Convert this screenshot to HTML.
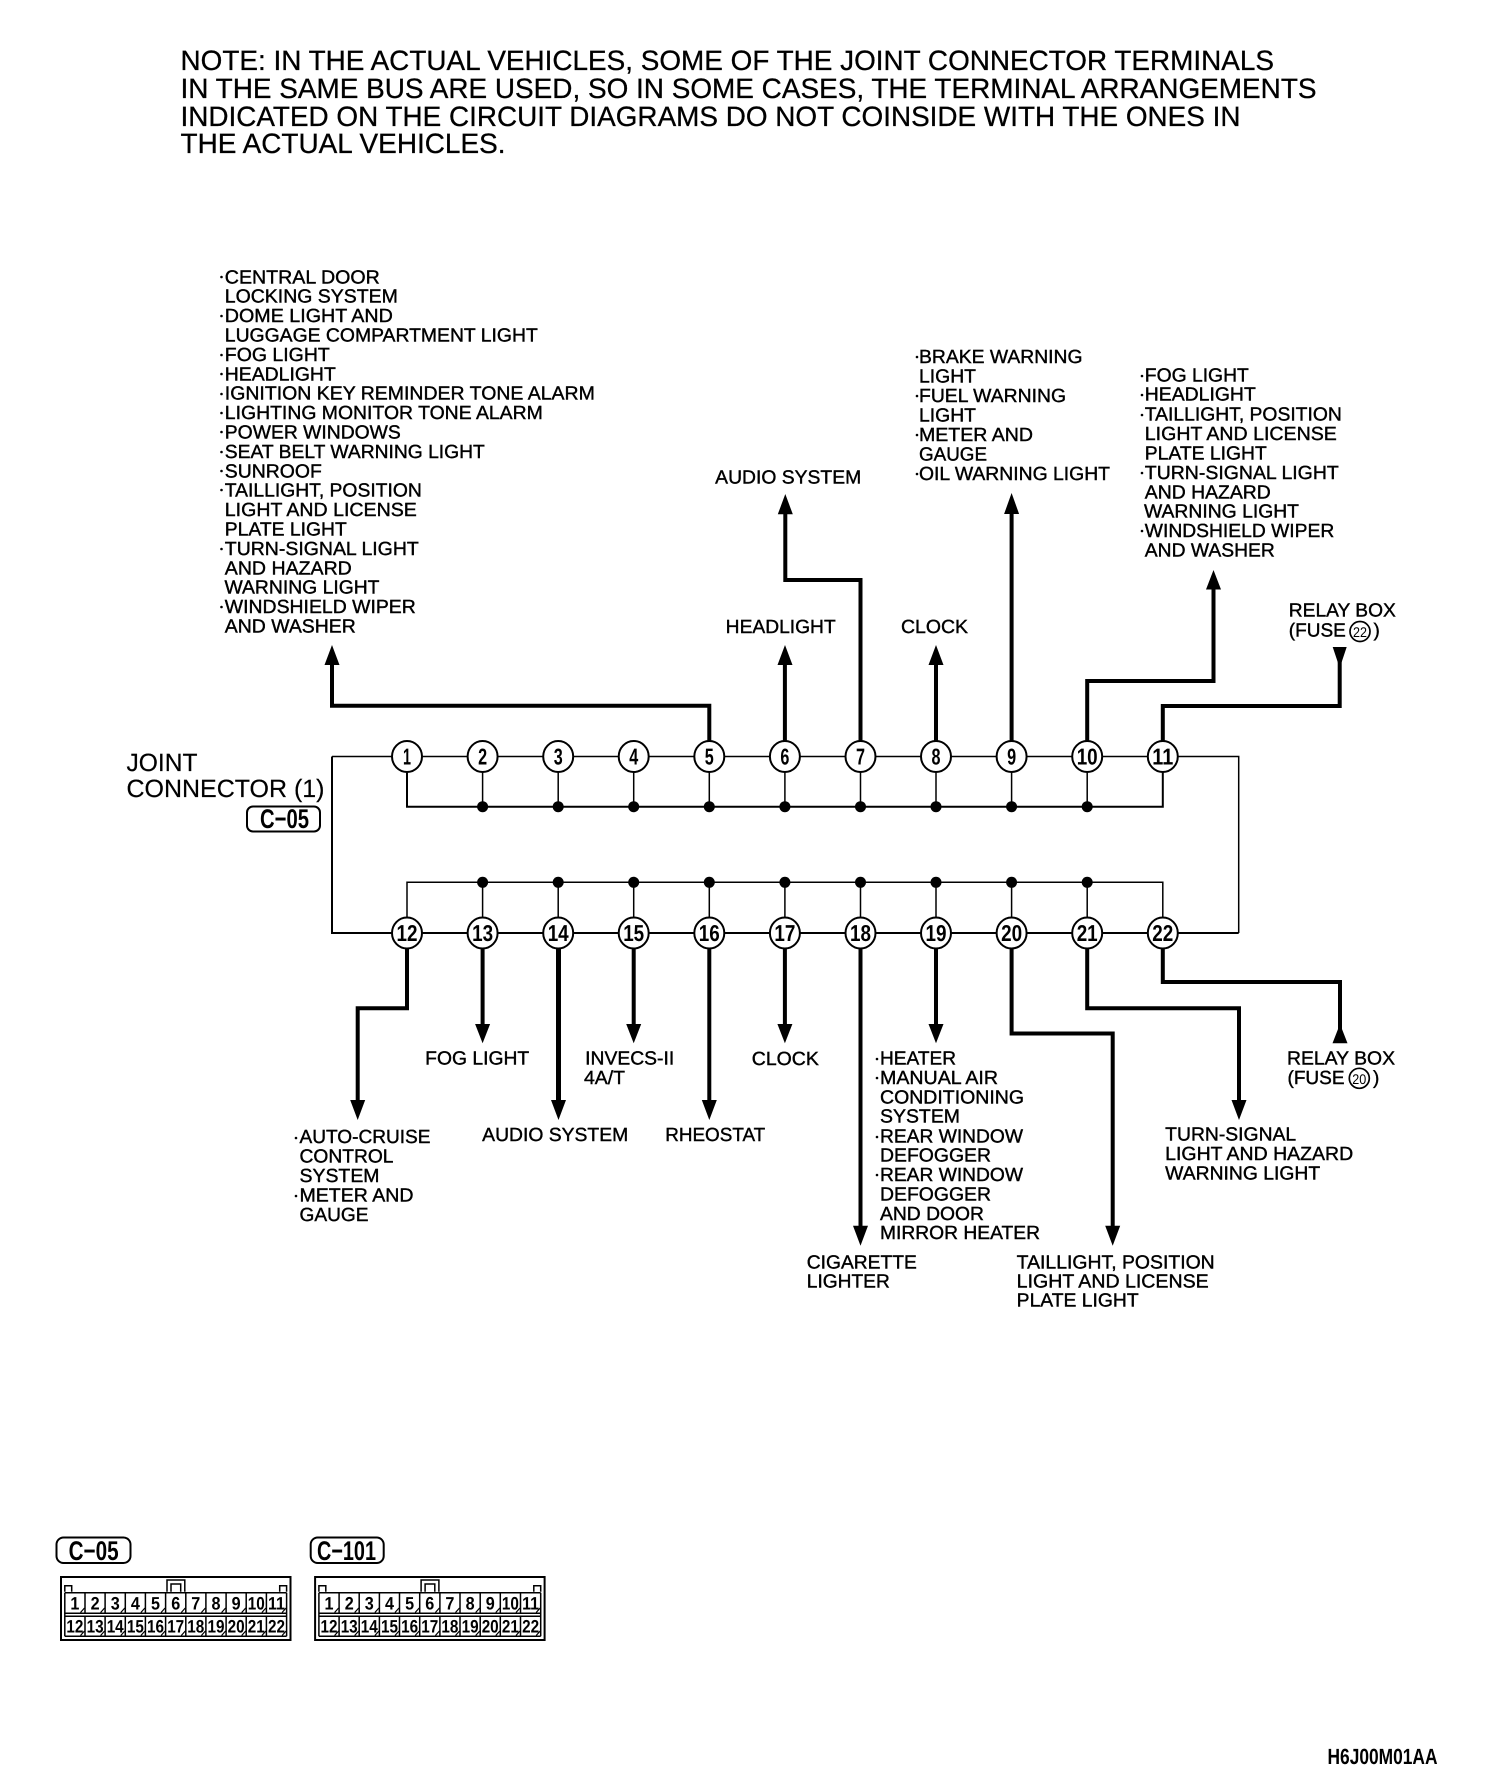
<!DOCTYPE html>
<html><head><meta charset="utf-8"><title>Joint connector diagram</title>
<style>
html,body{margin:0;padding:0;background:#fff}
svg{display:block}
text{font-family:"Liberation Sans",Arial,sans-serif;fill:#000}
.n{font-size:28px;stroke:#000;stroke-width:.3}
.l{font-size:19px;stroke:#000;stroke-width:.4}
.j{font-size:25px;stroke:#000;stroke-width:.2}
.b{font-weight:bold}
.c{font-size:23px;font-weight:bold;text-anchor:middle}
.t{font-size:18px;font-weight:bold;text-anchor:middle}
.w{fill:none;stroke:#000;stroke-width:4;stroke-linejoin:miter}
.f{fill:none;stroke:#000;stroke-width:2}
.s{fill:none;stroke:#000;stroke-width:1.5}
</style></head><body>
<svg xmlns="http://www.w3.org/2000/svg" width="1504" height="1786" viewBox="0 0 1504 1786" text-rendering="geometricPrecision">
<rect width="1504" height="1786" fill="#fff"/>
<text class="n" x="180.5" y="70" textLength="1093.5" lengthAdjust="spacingAndGlyphs">NOTE: IN THE ACTUAL VEHICLES, SOME OF THE JOINT CONNECTOR TERMINALS</text>
<text class="n" x="180.5" y="98" textLength="1136" lengthAdjust="spacingAndGlyphs">IN THE SAME BUS ARE USED, SO IN SOME CASES, THE TERMINAL ARRANGEMENTS</text>
<text class="n" x="180.5" y="126" textLength="1060" lengthAdjust="spacingAndGlyphs">INDICATED ON THE CIRCUIT DIAGRAMS DO NOT COINSIDE WITH THE ONES IN</text>
<text class="n" x="180.5" y="153" textLength="325" lengthAdjust="spacingAndGlyphs">THE ACTUAL VEHICLES.</text>

<!-- bus wires -->
<path class="s" d="M332 756.5H1238.7V933"/>
<path class="f" d="M332 756.5V933H1238.7"/>
<path class="f" d="M407 756V806.7H1162.8V756"/>
<path class="s" d="M407 933V882.3H1162.8V933"/>
<path class="s" d="M482.6 756V806M558.2 756V806M633.7 756V806M709.3 756V806M784.9 756V806M860.5 756V806M936 756V806M1011.6 756V806M1087.2 756V806"/>
<path class="s" d="M482.6 882V933M558.2 882V933M633.7 882V933M709.3 882V933M784.9 882V933M860.5 882V933M936 882V933M1011.6 882V933M1087.2 882V933"/>
<g fill="#000">
<circle cx="482.6" cy="806.7" r="5.5"/><circle cx="558.2" cy="806.7" r="5.5"/><circle cx="633.7" cy="806.7" r="5.5"/><circle cx="709.3" cy="806.7" r="5.5"/><circle cx="784.9" cy="806.7" r="5.5"/><circle cx="860.5" cy="806.7" r="5.5"/><circle cx="936" cy="806.7" r="5.5"/><circle cx="1011.6" cy="806.7" r="5.5"/><circle cx="1087.2" cy="806.7" r="5.5"/>
<circle cx="482.6" cy="882.3" r="5.5"/><circle cx="558.2" cy="882.3" r="5.5"/><circle cx="633.7" cy="882.3" r="5.5"/><circle cx="709.3" cy="882.3" r="5.5"/><circle cx="784.9" cy="882.3" r="5.5"/><circle cx="860.5" cy="882.3" r="5.5"/><circle cx="936" cy="882.3" r="5.5"/><circle cx="1011.6" cy="882.3" r="5.5"/><circle cx="1087.2" cy="882.3" r="5.5"/>
</g>

<!-- outgoing wires -->
<path class="w" d="M709.3 741V705.7H332V660"/>
<path class="w" d="M784.9 741V660"/>
<path class="w" d="M860.5 741V580H785.3V510"/>
<path class="w" d="M936 741V660"/>
<path class="w" d="M1011.6 741V510"/>
<path class="w" d="M1087.2 741V681H1213.5V585"/>
<path class="w" d="M1162.8 741V706H1339.7V660"/>
<path class="w" d="M407 948V1008.3H357.7V1105"/>
<path class="w" d="M482.6 948V1028"/>
<path class="w" style="stroke-width:5" d="M558.5 948V1105"/>
<path class="w" d="M633.7 948V1028"/>
<path class="w" d="M709.3 948V1105"/>
<path class="w" d="M784.9 948V1028"/>
<path class="w" d="M860.5 948V1230"/>
<path class="w" d="M936 948V1028"/>
<path class="w" d="M1011.6 948V1033.5H1112.7V1230"/>
<path class="w" d="M1087.2 948V1008.3H1239V1105"/>
<path class="w" d="M1162.8 948V982H1340V1030"/>
<g fill="#000">
<polygon points="332,645 324.5,665 339.5,665"/>
<polygon points="785,645 777.5,665 792.5,665"/>
<polygon points="785.3,494 777.8,514.3 792.8,514.3"/>
<polygon points="936,645 928.5,665 943.5,665"/>
<polygon points="1011.6,493 1004.1,514 1019.1,514"/>
<polygon points="1213.5,570 1206,589.5 1221,589.5"/>
<polygon points="1332.7,647 1346.7,647 1339.7,668"/>
<polygon points="357.7,1120 350.2,1100 365.2,1100"/>
<polygon points="482.6,1043.3 475.1,1024 490.1,1024"/>
<polygon points="558.5,1120 551,1100 566,1100"/>
<polygon points="633.7,1043.3 626.2,1024 641.2,1024"/>
<polygon points="709.3,1120 701.8,1100 716.8,1100"/>
<polygon points="784.9,1043.3 777.4,1024 792.4,1024"/>
<polygon points="860.5,1245.7 853,1225.7 868,1225.7"/>
<polygon points="936,1043.3 928.5,1024 943.5,1024"/>
<polygon points="1112.7,1245.7 1105.2,1225.7 1120.2,1225.7"/>
<polygon points="1239,1120 1231.5,1100 1246.5,1100"/>
<polygon points="1340,1024 1332.5,1043.3 1347.5,1043.3"/>
</g>

<!-- terminals -->
<g fill="#fff" stroke="#000" stroke-width="2">
<ellipse cx="407" cy="756.5" rx="15" ry="15.5"/><ellipse cx="482.6" cy="756.5" rx="15" ry="15.5"/><ellipse cx="558.2" cy="756.5" rx="15" ry="15.5"/><ellipse cx="633.7" cy="756.5" rx="15" ry="15.5"/><ellipse cx="709.3" cy="756.5" rx="15" ry="15.5"/><ellipse cx="784.9" cy="756.5" rx="15" ry="15.5"/><ellipse cx="860.5" cy="756.5" rx="15" ry="15.5"/><ellipse cx="936" cy="756.5" rx="15" ry="15.5"/><ellipse cx="1011.6" cy="756.5" rx="15" ry="15.5"/><ellipse cx="1087.2" cy="756.5" rx="15" ry="15.5"/><ellipse cx="1162.8" cy="756.5" rx="15" ry="15.5"/>
<ellipse cx="407" cy="933" rx="15" ry="15.5"/><ellipse cx="482.6" cy="933" rx="15" ry="15.5"/><ellipse cx="558.2" cy="933" rx="15" ry="15.5"/><ellipse cx="633.7" cy="933" rx="15" ry="15.5"/><ellipse cx="709.3" cy="933" rx="15" ry="15.5"/><ellipse cx="784.9" cy="933" rx="15" ry="15.5"/><ellipse cx="860.5" cy="933" rx="15" ry="15.5"/><ellipse cx="936" cy="933" rx="15" ry="15.5"/><ellipse cx="1011.6" cy="933" rx="15" ry="15.5"/><ellipse cx="1087.2" cy="933" rx="15" ry="15.5"/><ellipse cx="1162.8" cy="933" rx="15" ry="15.5"/>
</g>
<g>
<text class="c" x="407" y="764.5" textLength="8" lengthAdjust="spacingAndGlyphs">1</text>
<text class="c" x="482.6" y="764.5" textLength="9" lengthAdjust="spacingAndGlyphs">2</text>
<text class="c" x="558.2" y="764.5" textLength="9" lengthAdjust="spacingAndGlyphs">3</text>
<text class="c" x="633.7" y="764.5" textLength="9" lengthAdjust="spacingAndGlyphs">4</text>
<text class="c" x="709.3" y="764.5" textLength="9" lengthAdjust="spacingAndGlyphs">5</text>
<text class="c" x="784.9" y="764.5" textLength="9" lengthAdjust="spacingAndGlyphs">6</text>
<text class="c" x="860.5" y="764.5" textLength="9" lengthAdjust="spacingAndGlyphs">7</text>
<text class="c" x="936" y="764.5" textLength="9" lengthAdjust="spacingAndGlyphs">8</text>
<text class="c" x="1011.6" y="764.5" textLength="9" lengthAdjust="spacingAndGlyphs">9</text>
<text class="c" x="1087.2" y="764.5" textLength="21" lengthAdjust="spacingAndGlyphs">10</text>
<text class="c" x="1162.8" y="764.5" textLength="21" lengthAdjust="spacingAndGlyphs">11</text>
<text class="c" x="407" y="941" textLength="21" lengthAdjust="spacingAndGlyphs">12</text>
<text class="c" x="482.6" y="941" textLength="21" lengthAdjust="spacingAndGlyphs">13</text>
<text class="c" x="558.2" y="941" textLength="21" lengthAdjust="spacingAndGlyphs">14</text>
<text class="c" x="633.7" y="941" textLength="21" lengthAdjust="spacingAndGlyphs">15</text>
<text class="c" x="709.3" y="941" textLength="21" lengthAdjust="spacingAndGlyphs">16</text>
<text class="c" x="784.9" y="941" textLength="21" lengthAdjust="spacingAndGlyphs">17</text>
<text class="c" x="860.5" y="941" textLength="21" lengthAdjust="spacingAndGlyphs">18</text>
<text class="c" x="936" y="941" textLength="21" lengthAdjust="spacingAndGlyphs">19</text>
<text class="c" x="1011.6" y="941" textLength="21" lengthAdjust="spacingAndGlyphs">20</text>
<text class="c" x="1087.2" y="941" textLength="21" lengthAdjust="spacingAndGlyphs">21</text>
<text class="c" x="1162.8" y="941" textLength="21" lengthAdjust="spacingAndGlyphs">22</text>
</g>

<!-- joint connector label -->
<text class="j" x="126.5" y="771" textLength="71" lengthAdjust="spacingAndGlyphs">JOINT</text>
<text class="j" x="126.5" y="797" textLength="198" lengthAdjust="spacingAndGlyphs">CONNECTOR (1)</text>
<rect x="247" y="806.5" width="73" height="25" rx="6" fill="#fff" stroke="#000" stroke-width="2"/>
<text class="b" style="font-size:27px" x="260" y="828" textLength="49" lengthAdjust="spacingAndGlyphs">C−05</text>

<!-- bullets -->
<g fill="#000">
<circle cx="221.5" cy="277" r="1.3"/><circle cx="221.5" cy="316" r="1.3"/><circle cx="221.5" cy="355" r="1.3"/><circle cx="221.5" cy="374" r="1.3"/><circle cx="221.5" cy="394" r="1.3"/><circle cx="221.5" cy="413" r="1.3"/><circle cx="221.5" cy="432" r="1.3"/><circle cx="221.5" cy="452" r="1.3"/><circle cx="221.5" cy="471" r="1.3"/><circle cx="221.5" cy="490" r="1.3"/><circle cx="221.5" cy="549" r="1.3"/><circle cx="221.5" cy="607" r="1.3"/>
<circle cx="917" cy="357" r="1.3"/><circle cx="917" cy="396" r="1.3"/><circle cx="917" cy="435" r="1.3"/><circle cx="917" cy="474" r="1.3"/>
<circle cx="1142" cy="376" r="1.3"/><circle cx="1142" cy="395" r="1.3"/><circle cx="1142" cy="415" r="1.3"/><circle cx="1142" cy="473" r="1.3"/><circle cx="1142" cy="531" r="1.3"/>
<circle cx="296" cy="1138" r="1.3"/><circle cx="296" cy="1196" r="1.3"/>
<circle cx="877" cy="1059" r="1.3"/><circle cx="877" cy="1078" r="1.3"/><circle cx="877" cy="1137" r="1.3"/><circle cx="877" cy="1175" r="1.3"/>
</g>

<!-- left list -->
<text class="l" x="224.8" y="283.3" textLength="155" lengthAdjust="spacingAndGlyphs">CENTRAL DOOR</text>
<text class="l" x="224.8" y="302.7" textLength="173" lengthAdjust="spacingAndGlyphs">LOCKING SYSTEM</text>
<text class="l" x="224.8" y="322.1" textLength="168" lengthAdjust="spacingAndGlyphs">DOME LIGHT AND</text>
<text class="l" x="224.8" y="341.5" textLength="313" lengthAdjust="spacingAndGlyphs">LUGGAGE COMPARTMENT LIGHT</text>
<text class="l" x="224.8" y="360.9" textLength="105" lengthAdjust="spacingAndGlyphs">FOG LIGHT</text>
<text class="l" x="224.8" y="380.3" textLength="111" lengthAdjust="spacingAndGlyphs">HEADLIGHT</text>
<text class="l" x="224.8" y="399.7" textLength="370" lengthAdjust="spacingAndGlyphs">IGNITION KEY REMINDER TONE ALARM</text>
<text class="l" x="224.8" y="419.1" textLength="318" lengthAdjust="spacingAndGlyphs">LIGHTING MONITOR TONE ALARM</text>
<text class="l" x="224.8" y="438.5" textLength="176" lengthAdjust="spacingAndGlyphs">POWER WINDOWS</text>
<text class="l" x="224.8" y="457.9" textLength="260" lengthAdjust="spacingAndGlyphs">SEAT BELT WARNING LIGHT</text>
<text class="l" x="224.8" y="477.3" textLength="97" lengthAdjust="spacingAndGlyphs">SUNROOF</text>
<text class="l" x="224.8" y="496.7" textLength="197" lengthAdjust="spacingAndGlyphs">TAILLIGHT, POSITION</text>
<text class="l" x="224.8" y="516.1" textLength="192" lengthAdjust="spacingAndGlyphs">LIGHT AND LICENSE</text>
<text class="l" x="224.8" y="535.5" textLength="122" lengthAdjust="spacingAndGlyphs">PLATE LIGHT</text>
<text class="l" x="224.8" y="554.9" textLength="194" lengthAdjust="spacingAndGlyphs">TURN-SIGNAL LIGHT</text>
<text class="l" x="224.8" y="574.3" textLength="127" lengthAdjust="spacingAndGlyphs">AND HAZARD</text>
<text class="l" x="224.5" y="593.7" textLength="155" lengthAdjust="spacingAndGlyphs">WARNING LIGHT</text>
<text class="l" x="224.8" y="613.1" textLength="191" lengthAdjust="spacingAndGlyphs">WINDSHIELD WIPER</text>
<text class="l" x="224.8" y="632.5" textLength="131" lengthAdjust="spacingAndGlyphs">AND WASHER</text>

<!-- top labels -->
<text class="l" x="715.2" y="483.7" textLength="146" lengthAdjust="spacingAndGlyphs">AUDIO SYSTEM</text>
<text class="l" x="725.7" y="633" textLength="110" lengthAdjust="spacingAndGlyphs">HEADLIGHT</text>
<text class="l" x="901" y="633" textLength="67" lengthAdjust="spacingAndGlyphs">CLOCK</text>
<text class="l" x="919" y="362.8" textLength="163.5" lengthAdjust="spacingAndGlyphs">BRAKE WARNING</text>
<text class="l" x="919" y="382.7" textLength="57" lengthAdjust="spacingAndGlyphs">LIGHT</text>
<text class="l" x="919" y="402" textLength="147" lengthAdjust="spacingAndGlyphs">FUEL WARNING</text>
<text class="l" x="919" y="421.7" textLength="57" lengthAdjust="spacingAndGlyphs">LIGHT</text>
<text class="l" x="919" y="441" textLength="114" lengthAdjust="spacingAndGlyphs">METER AND</text>
<text class="l" x="919" y="460.7" textLength="68" lengthAdjust="spacingAndGlyphs">GAUGE</text>
<text class="l" x="919" y="480" textLength="191" lengthAdjust="spacingAndGlyphs">OIL WARNING LIGHT</text>
<text class="l" x="1144.8" y="381.7" textLength="104" lengthAdjust="spacingAndGlyphs">FOG LIGHT</text>
<text class="l" x="1144.8" y="400.7" textLength="111" lengthAdjust="spacingAndGlyphs">HEADLIGHT</text>
<text class="l" x="1144.8" y="420.7" textLength="197" lengthAdjust="spacingAndGlyphs">TAILLIGHT, POSITION</text>
<text class="l" x="1144.8" y="440" textLength="192" lengthAdjust="spacingAndGlyphs">LIGHT AND LICENSE</text>
<text class="l" x="1144.8" y="459.3" textLength="122" lengthAdjust="spacingAndGlyphs">PLATE LIGHT</text>
<text class="l" x="1144.8" y="479" textLength="194" lengthAdjust="spacingAndGlyphs">TURN-SIGNAL LIGHT</text>
<text class="l" x="1144.8" y="498.3" textLength="126" lengthAdjust="spacingAndGlyphs">AND HAZARD</text>
<text class="l" x="1144" y="517.7" textLength="155" lengthAdjust="spacingAndGlyphs">WARNING LIGHT</text>
<text class="l" x="1144.8" y="537" textLength="189.5" lengthAdjust="spacingAndGlyphs">WINDSHIELD WIPER</text>
<text class="l" x="1144.8" y="556.7" textLength="130" lengthAdjust="spacingAndGlyphs">AND WASHER</text>
<text class="l" x="1288.8" y="616.7" textLength="107" lengthAdjust="spacingAndGlyphs">RELAY BOX</text>
<text class="l" x="1288.8" y="636.7" textLength="57" lengthAdjust="spacingAndGlyphs">(FUSE</text>
<circle cx="1360" cy="631.5" r="10" fill="none" stroke="#000" stroke-width="1.7"/>
<text x="1360" y="637" style="font-size:14px;text-anchor:middle" textLength="14" lengthAdjust="spacingAndGlyphs">22</text>
<text class="l" x="1373.5" y="636.7">)</text>

<!-- bottom labels -->
<text class="l" x="425.2" y="1064.3" textLength="104" lengthAdjust="spacingAndGlyphs">FOG LIGHT</text>
<text class="l" x="585.2" y="1064.3" textLength="89" lengthAdjust="spacingAndGlyphs">INVECS-II</text>
<text class="l" x="584" y="1084" textLength="41" lengthAdjust="spacingAndGlyphs">4A/T</text>
<text class="l" x="751.8" y="1065" textLength="67" lengthAdjust="spacingAndGlyphs">CLOCK</text>
<text class="l" x="482.2" y="1141" textLength="146" lengthAdjust="spacingAndGlyphs">AUDIO SYSTEM</text>
<text class="l" x="665.2" y="1141" textLength="100" lengthAdjust="spacingAndGlyphs">RHEOSTAT</text>
<text class="l" x="299.5" y="1143" textLength="131" lengthAdjust="spacingAndGlyphs">AUTO-CRUISE</text>
<text class="l" x="299.5" y="1162.7" textLength="94" lengthAdjust="spacingAndGlyphs">CONTROL</text>
<text class="l" x="299.5" y="1182" textLength="80" lengthAdjust="spacingAndGlyphs">SYSTEM</text>
<text class="l" x="299.5" y="1201.7" textLength="114" lengthAdjust="spacingAndGlyphs">METER AND</text>
<text class="l" x="299.5" y="1221" textLength="69" lengthAdjust="spacingAndGlyphs">GAUGE</text>
<text class="l" x="880" y="1064.7" textLength="76" lengthAdjust="spacingAndGlyphs">HEATER</text>
<text class="l" x="880" y="1084" textLength="118" lengthAdjust="spacingAndGlyphs">MANUAL AIR</text>
<text class="l" x="880" y="1103.3" textLength="144" lengthAdjust="spacingAndGlyphs">CONDITIONING</text>
<text class="l" x="880" y="1122.7" textLength="80" lengthAdjust="spacingAndGlyphs">SYSTEM</text>
<text class="l" x="880" y="1142.3" textLength="143" lengthAdjust="spacingAndGlyphs">REAR WINDOW</text>
<text class="l" x="880" y="1161.7" textLength="111" lengthAdjust="spacingAndGlyphs">DEFOGGER</text>
<text class="l" x="880" y="1181" textLength="143" lengthAdjust="spacingAndGlyphs">REAR WINDOW</text>
<text class="l" x="880" y="1200.4" textLength="111" lengthAdjust="spacingAndGlyphs">DEFOGGER</text>
<text class="l" x="880" y="1220" textLength="104" lengthAdjust="spacingAndGlyphs">AND DOOR</text>
<text class="l" x="880" y="1239" textLength="160" lengthAdjust="spacingAndGlyphs">MIRROR HEATER</text>
<text class="l" x="806.8" y="1268.3" textLength="110" lengthAdjust="spacingAndGlyphs">CIGARETTE</text>
<text class="l" x="806.8" y="1287.7" textLength="83" lengthAdjust="spacingAndGlyphs">LIGHTER</text>
<text class="l" x="1016.7" y="1268.3" textLength="198" lengthAdjust="spacingAndGlyphs">TAILLIGHT, POSITION</text>
<text class="l" x="1016.7" y="1287.7" textLength="192" lengthAdjust="spacingAndGlyphs">LIGHT AND LICENSE</text>
<text class="l" x="1016.7" y="1306.7" textLength="122" lengthAdjust="spacingAndGlyphs">PLATE LIGHT</text>
<text class="l" x="1165.2" y="1140.7" textLength="131" lengthAdjust="spacingAndGlyphs">TURN-SIGNAL</text>
<text class="l" x="1165.2" y="1160" textLength="188" lengthAdjust="spacingAndGlyphs">LIGHT AND HAZARD</text>
<text class="l" x="1165.2" y="1179.3" textLength="155" lengthAdjust="spacingAndGlyphs">WARNING LIGHT</text>
<text class="l" x="1287" y="1064.7" textLength="108" lengthAdjust="spacingAndGlyphs">RELAY BOX</text>
<text class="l" x="1287.5" y="1084" textLength="57" lengthAdjust="spacingAndGlyphs">(FUSE</text>
<circle cx="1359.3" cy="1078.3" r="10" fill="none" stroke="#000" stroke-width="1.7"/>
<text x="1359.3" y="1084" style="font-size:14px;text-anchor:middle" textLength="14" lengthAdjust="spacingAndGlyphs">20</text>
<text class="l" x="1373" y="1084">)</text>

<!-- connectors -->
<rect x="56.5" y="1537.5" width="74" height="25.5" rx="7" fill="none" stroke="#000" stroke-width="2"/>
<text class="b" style="font-size:27px" x="68.6" y="1560" textLength="50" lengthAdjust="spacingAndGlyphs">C−05</text>
<rect x="310.7" y="1537.5" width="73" height="25.5" rx="7" fill="none" stroke="#000" stroke-width="2"/>
<text class="b" style="font-size:27px" x="317" y="1560" textLength="59" lengthAdjust="spacingAndGlyphs">C−101</text>
<defs>
<g id="shell">
<rect x="61" y="1577" width="229.5" height="63" fill="none" stroke="#000" stroke-width="2"/>
<path class="s" d="M64.8 1592.7H286.6M64.8 1613.3H286.6M64.8 1616.2H286.6M64.8 1636.2H286.6M64.8 1592.7V1636.2M286.6 1592.7V1636.2"/>
<path class="s" d="M85 1592.7V1613.3M105.1 1592.7V1613.3M125.3 1592.7V1613.3M145.4 1592.7V1613.3M165.6 1592.7V1613.3M185.8 1592.7V1613.3M205.9 1592.7V1613.3M226.1 1592.7V1613.3M246.2 1592.7V1613.3M266.4 1592.7V1613.3M85 1616V1636M105.1 1616V1636M125.3 1616V1636M145.4 1616V1636M165.6 1616V1636M185.8 1616V1636M205.9 1616V1636M226.1 1616V1636M246.2 1616V1636M266.4 1616V1636"/>
<path class="s" d="M64.8 1591.7V1585.7H71.7V1591.7M279.7 1591.7V1585.7H286.6V1591.7M167 1591.7V1580H184.8V1591.7M171 1591.7V1584H180.7V1591.7"/>
<path stroke="#000" stroke-width="1.2" fill="none" d="M84.5 1608l-4 4.5M104.6 1608l-4 4.5M124.8 1608l-4 4.5M144.9 1608l-4 4.5M165.1 1608l-4 4.5M185.3 1608l-4 4.5M205.4 1608l-4 4.5M225.6 1608l-4 4.5M245.7 1608l-4 4.5M265.9 1608l-4 4.5M286.1 1608l-4 4.5M84.5 1631l-4 4.5M104.6 1631l-4 4.5M124.8 1631l-4 4.5M144.9 1631l-4 4.5M165.1 1631l-4 4.5M185.3 1631l-4 4.5M205.4 1631l-4 4.5M225.6 1631l-4 4.5M245.7 1631l-4 4.5M265.9 1631l-4 4.5M286.1 1631l-4 4.5"/>
</g>
</defs>
<use href="#shell"/>
<use href="#shell" x="254.1"/>
<g>
<text class="t" x="74.9" y="1609.5" textLength="9" lengthAdjust="spacingAndGlyphs">1</text><text class="t" x="95.1" y="1609.5" textLength="9" lengthAdjust="spacingAndGlyphs">2</text><text class="t" x="115.2" y="1609.5" textLength="9" lengthAdjust="spacingAndGlyphs">3</text><text class="t" x="135.4" y="1609.5" textLength="9" lengthAdjust="spacingAndGlyphs">4</text><text class="t" x="155.5" y="1609.5" textLength="9" lengthAdjust="spacingAndGlyphs">5</text><text class="t" x="175.7" y="1609.5" textLength="9" lengthAdjust="spacingAndGlyphs">6</text><text class="t" x="195.8" y="1609.5" textLength="9" lengthAdjust="spacingAndGlyphs">7</text><text class="t" x="216" y="1609.5" textLength="9" lengthAdjust="spacingAndGlyphs">8</text><text class="t" x="236.1" y="1609.5" textLength="9" lengthAdjust="spacingAndGlyphs">9</text><text class="t" x="256.3" y="1609.5" textLength="17" lengthAdjust="spacingAndGlyphs">10</text><text class="t" x="276.5" y="1609.5" textLength="17" lengthAdjust="spacingAndGlyphs">11</text>
<text class="t" x="74.9" y="1632.5" textLength="17" lengthAdjust="spacingAndGlyphs">12</text><text class="t" x="95.1" y="1632.5" textLength="17" lengthAdjust="spacingAndGlyphs">13</text><text class="t" x="115.2" y="1632.5" textLength="17" lengthAdjust="spacingAndGlyphs">14</text><text class="t" x="135.4" y="1632.5" textLength="17" lengthAdjust="spacingAndGlyphs">15</text><text class="t" x="155.5" y="1632.5" textLength="17" lengthAdjust="spacingAndGlyphs">16</text><text class="t" x="175.7" y="1632.5" textLength="17" lengthAdjust="spacingAndGlyphs">17</text><text class="t" x="195.8" y="1632.5" textLength="17" lengthAdjust="spacingAndGlyphs">18</text><text class="t" x="216" y="1632.5" textLength="17" lengthAdjust="spacingAndGlyphs">19</text><text class="t" x="236.1" y="1632.5" textLength="17" lengthAdjust="spacingAndGlyphs">20</text><text class="t" x="256.3" y="1632.5" textLength="17" lengthAdjust="spacingAndGlyphs">21</text><text class="t" x="276.5" y="1632.5" textLength="17" lengthAdjust="spacingAndGlyphs">22</text>
</g>
<g>
<text class="t" x="329" y="1609.5" textLength="9" lengthAdjust="spacingAndGlyphs">1</text><text class="t" x="349.2" y="1609.5" textLength="9" lengthAdjust="spacingAndGlyphs">2</text><text class="t" x="369.3" y="1609.5" textLength="9" lengthAdjust="spacingAndGlyphs">3</text><text class="t" x="389.5" y="1609.5" textLength="9" lengthAdjust="spacingAndGlyphs">4</text><text class="t" x="409.6" y="1609.5" textLength="9" lengthAdjust="spacingAndGlyphs">5</text><text class="t" x="429.8" y="1609.5" textLength="9" lengthAdjust="spacingAndGlyphs">6</text><text class="t" x="449.9" y="1609.5" textLength="9" lengthAdjust="spacingAndGlyphs">7</text><text class="t" x="470.1" y="1609.5" textLength="9" lengthAdjust="spacingAndGlyphs">8</text><text class="t" x="490.2" y="1609.5" textLength="9" lengthAdjust="spacingAndGlyphs">9</text><text class="t" x="510.4" y="1609.5" textLength="17" lengthAdjust="spacingAndGlyphs">10</text><text class="t" x="530.6" y="1609.5" textLength="17" lengthAdjust="spacingAndGlyphs">11</text>
<text class="t" x="329" y="1632.5" textLength="17" lengthAdjust="spacingAndGlyphs">12</text><text class="t" x="349.2" y="1632.5" textLength="17" lengthAdjust="spacingAndGlyphs">13</text><text class="t" x="369.3" y="1632.5" textLength="17" lengthAdjust="spacingAndGlyphs">14</text><text class="t" x="389.5" y="1632.5" textLength="17" lengthAdjust="spacingAndGlyphs">15</text><text class="t" x="409.6" y="1632.5" textLength="17" lengthAdjust="spacingAndGlyphs">16</text><text class="t" x="429.8" y="1632.5" textLength="17" lengthAdjust="spacingAndGlyphs">17</text><text class="t" x="449.9" y="1632.5" textLength="17" lengthAdjust="spacingAndGlyphs">18</text><text class="t" x="470.1" y="1632.5" textLength="17" lengthAdjust="spacingAndGlyphs">19</text><text class="t" x="490.2" y="1632.5" textLength="17" lengthAdjust="spacingAndGlyphs">20</text><text class="t" x="510.4" y="1632.5" textLength="17" lengthAdjust="spacingAndGlyphs">21</text><text class="t" x="530.6" y="1632.5" textLength="17" lengthAdjust="spacingAndGlyphs">22</text>
</g>

<text class="b" style="font-size:22px" x="1327.5" y="1764" textLength="110" lengthAdjust="spacingAndGlyphs">H6J00M01AA</text>
</svg>
</body></html>
